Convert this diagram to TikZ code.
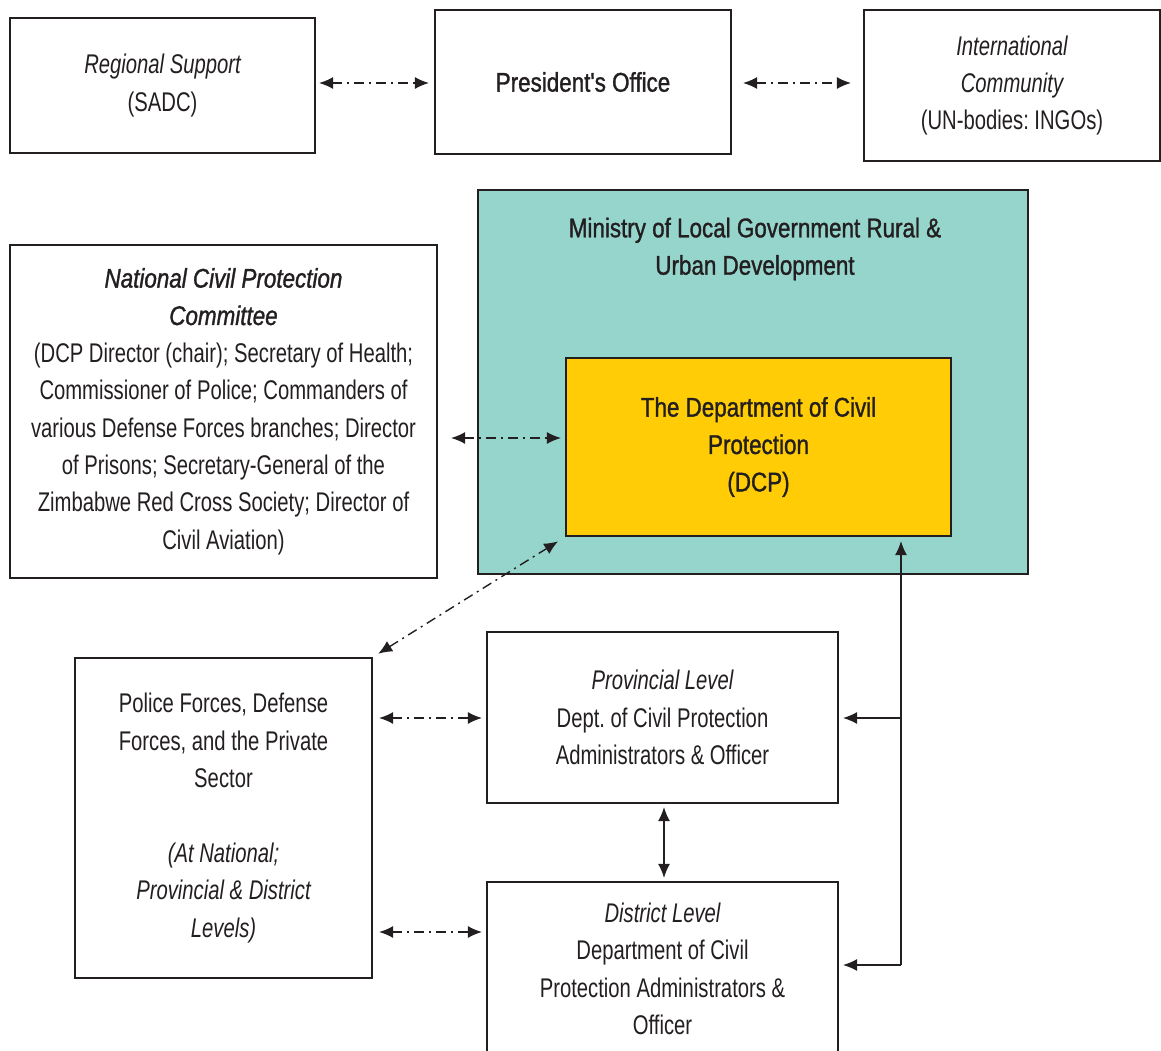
\documentclass[tikz,border=0pt]{standalone}
\usepackage{fontspec}
\setmainfont{Liberation Sans}[FakeStretch=0.75]
\newfontfamily\medfont{Liberation Sans}[FakeStretch=0.83, FakeBold=1.2]
\usetikzlibrary{arrows.meta, positioning, calc}
\frenchspacing

\definecolor{mintteal}{RGB}{149,213,204}
\definecolor{dcpyellow}{RGB}{255,204,5}
\definecolor{inkgray}{RGB}{35,31,32}

\tikzset{
  orgbox/.style = {draw = inkgray, line width = 1.1pt, fill = white, align = center,
                   text = inkgray, inner sep = 0pt, font = \fontsize{13.5}{18.7}\selectfont},
  dashlink/.style = {{Latex[length=7pt,width=6pt]}-{Latex[length=7pt,width=6pt]},
                     inkgray, line width = 0.7pt,
                     dash pattern = on 5pt off 2.5pt on 1pt off 2.5pt},
  solidlink/.style = {-{Latex[length=7pt,width=6pt]}, inkgray, line width = 0.6pt},
  bothlink/.style = {{Latex[length=7pt,width=6pt]}-{Latex[length=7pt,width=6pt]}, inkgray, line width = 0.7pt}
}

\begin{document}
\begin{tikzpicture}[x = 0.5pt, y = -0.5pt]
\useasboundingbox (0,0) rectangle (1161,1050);

% top row
\node (reg) [orgbox, minimum width = 152.5pt, minimum height = 67.5pt] at (162.5,85.5)
  {\itshape Regional Support\\(SADC)};
\node (pres) [orgbox, minimum width = 148pt, minimum height = 72pt] at (583,82)
  {\medfont President's Office};
\node (intl) [orgbox, minimum width = 148pt, minimum height = 75.5pt] at (1012,85.5)
  {\itshape International\\\itshape Community\\(UN-bodies: INGOs)};

% ministry and department
\node (min) [orgbox, fill = mintteal, minimum width = 275pt, minimum height = 192pt] at (753,382) {};
\node (mintext) [text = inkgray, align = center, font = \fontsize{13.5}{18.7}\selectfont\medfont] at (755,249)
  {Ministry of Local Government Rural \&\\Urban Development};
\node (dcp) [orgbox, fill = dcpyellow, minimum width = 192.5pt, minimum height = 89pt] at (758.5,447)
  {\medfont The Department of Civil\\\medfont Protection\\\medfont (DCP)};

\node (ncpc) [orgbox, minimum width = 213.5pt, minimum height = 166.5pt] at (223.5,411.5)
  {\medfont\itshape National Civil Protection\\\medfont\itshape Committee\\
   (DCP Director (chair); Secretary of Health;\\
   Commissioner of Police; Commanders of\\
   various Defense Forces branches; Director\\
   of Prisons; Secretary-General of the\\
   Zimbabwe Red Cross Society; Director of\\
   Civil Aviation)};

% lower levels
\node (police) [orgbox, minimum width = 148.5pt, minimum height = 160pt] at (223.5,818)
  {Police Forces, Defense\\Forces, and the Private\\Sector\\[18.7pt]
   \itshape (At National;\\\itshape Provincial \& District\\\itshape Levels)};
\node (prov) [orgbox, minimum width = 175.5pt, minimum height = 85.5pt] at (662.5,717.5)
  {\itshape Provincial Level\\Dept. of Civil Protection\\Administrators \& Officer};
\node (dist) [orgbox, minimum width = 175.5pt, minimum height = 87pt] at (662.5,969)
  {\itshape District Level\\Department of Civil\\Protection Administrators \&\\Officer};

\coordinate (bus) at (901,965);

% links
\draw [dashlink, shorten <= 1.5pt, shorten >= 2.5pt] (reg.east |- 0,83) -- (pres.west |- 0,83);
\draw [dashlink, shorten <= 5.5pt, shorten >= 6pt] (pres.east |- 0,83) -- (intl.west |- 0,83);
\draw [dashlink, shorten <= 6.5pt, shorten >= 2pt] (ncpc.east |- 0,438) -- (dcp.west |- 0,438);
\draw [dashlink, shorten <= 3pt, shorten >= 4pt] (police.north east) -- (dcp.south west);
\draw [dashlink, shorten <= 3pt, shorten >= 2pt] (police.east |- 0,718) -- (prov.west |- 0,718);
\draw [dashlink, shorten <= 3pt, shorten >= 2pt] (police.east |- 0,932) -- (dist.west |- 0,932);
\draw [bothlink, shorten <= 1.5pt, shorten >= 1.5pt] (prov.south -| 664,0) -- (dist.north -| 664,0);
\draw [solidlink, shorten >= 2pt] (bus) -- (bus |- dcp.south);
\draw [solidlink, shorten >= 2pt] (bus |- 0,718) -- (prov.east |- 0,718);
\draw [solidlink, shorten >= 2pt] (bus) -- (dist.east |- bus);
\end{tikzpicture}
\end{document}
